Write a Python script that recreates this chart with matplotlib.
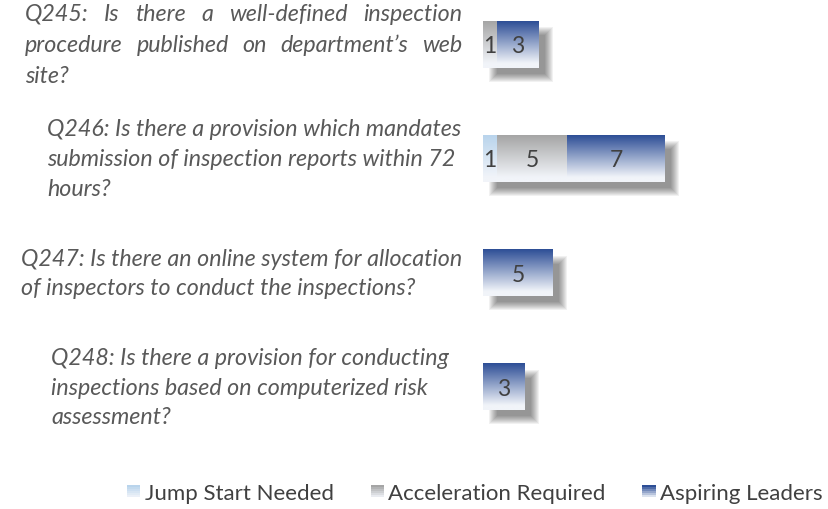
import numpy as np
import matplotlib
matplotlib.use("Agg")
import matplotlib.pyplot as plt
from matplotlib.colors import LinearSegmentedColormap, to_rgb
from matplotlib.patches import Rectangle, Patch
from matplotlib.legend_handler import HandlerBase
from matplotlib.transforms import offset_copy

# data
questions = [
    ["Q245: Is there a well-defined inspection",
     "procedure published on department\u2019s web",
     "site?"],
    ["Q246: Is there a provision which mandates",
     "submission of inspection reports within 72",
     "hours?"],
    ["Q247: Is there an online system for allocation",
     "of inspectors to conduct the inspections?"],
    ["Q248: Is there a provision for conducting",
     "inspections based on computerized risk",
     "assessment?"],
]
series = ["Jump Start Needed", "Acceleration Required", "Aspiring Leaders"]
jump_start = [0, 1, 0, 0]
acceleration = [1, 5, 0, 0]
aspiring = [3, 7, 5, 3]
colors = ["#b9d4ec", "#a5a5a5", "#2d4e96"]
light = "#f1f4f9"

W, H = 829, 510
PX = 14.0          # pixels per unit on the value axis
ROW = 114.2        # pixels between question rows
FONT = "Lato"

def grad_cmap(c):
    return LinearSegmentedColormap.from_list(
        "g", [(0, to_rgb(c)), (0.9, to_rgb(light)), (1, to_rgb(light))], N=256)

fig = plt.figure(figsize=(W / 100, H / 100), dpi=100)
ax = fig.add_axes([483 / W, 1 - 440 / H, (W - 483) / W, 440 / H])
ax.axis("off")
r = fig.canvas.get_renderer()

h = 46.5 / ROW
grad = np.linspace(0, 1, 200).reshape(-1, 1)
shadow_tr = offset_copy(ax.transData, fig=fig, x=10, y=-10, units="dots")

values = np.array([jump_start, acceleration, aspiring])
for i in range(len(questions)):
    total = values[:, i].sum()
    # soft drop shadow
    for pad in np.linspace(4, -4, 9):
        ax.add_patch(Rectangle((-pad / PX, i - h / 2 - pad / ROW), total + 2 * pad / PX,
                               h + 2 * pad / ROW, transform=shadow_tr,
                               color="black", alpha=0.055, lw=0, zorder=1))
    left = 0
    for s in range(len(series)):
        v = values[s, i]
        if v == 0:
            continue
        ax.imshow(grad, cmap=grad_cmap(colors[s]), aspect="auto", interpolation="bilinear",
                  extent=(left, left + v, i + h / 2, i - h / 2), zorder=2)
        ax.text(left + v / 2, i + 0.01, str(v), ha="center", va="center",
                fontsize=16.5, color="#404040", family=FONT, zorder=3)
        left += v

ax.set_xlim(0, (W - 483) / PX)
ax.set_ylim((440 - 45.5) / ROW, -45.5 / ROW)

# question text
probe = fig.text(0, 0, questions[1][0], fontsize=10, style="italic", family=FONT)
fs = 10 * 414 / probe.get_window_extent(r).width
probe.remove()
kw = dict(fontsize=fs, style="italic", family=FONT, color="#595959", va="center")

text_left = [25, 47, 21, 51]
line_gap = [31, 30, 29.5, 29.5]
justified = [True, False, False, False]
right_edge = 462

for qi, lines in enumerate(questions):
    yc = 45.5 + qi * ROW
    n = len(lines)
    for li, line in enumerate(lines):
        y = yc + (li - (n - 1) / 2) * line_gap[qi]
        if justified[qi] and li < n - 1:
            words = line.split(" ")
            arts = [fig.text(0, 0, w, ha="left", **kw) for w in words]
            widths = [a.get_window_extent(r).width for a in arts]
            gap = (right_edge - text_left[qi] - sum(widths)) / (len(words) - 1)
            x = text_left[qi]
            for a, w in zip(arts, widths):
                a.set_position((x / W, 1 - y / H))
                x += w + gap
        else:
            fig.text(text_left[qi] / W, 1 - y / H, line, ha="left", **kw)


class GradHandler(HandlerBase):
    def create_artists(self, legend, orig_handle, xdescent, ydescent, width, height, fontsize, trans):
        cm = grad_cmap(orig_handle.get_facecolor())
        n = 6
        out = []
        for k in range(n):
            out.append(Rectangle((-xdescent, -ydescent + height * (1 - (k + 1) / n)), width,
                                 height / n, facecolor=cm(k / (n - 1) * 0.8), lw=0,
                                 transform=trans))
        return out


handles = [Patch(facecolor=c) for c in colors]
fig.legend(handles, series, loc="center", bbox_to_anchor=(475 / W, 1 - 494 / H), ncol=3,
           frameon=False, handler_map={Patch: GradHandler()},
           prop={"family": "Lato", "size": 16}, labelcolor="#404040",
           handlelength=0.6, handleheight=0.45, handletextpad=0.2, columnspacing=1.65,
           borderpad=0.2)

fig.savefig("out.png", dpi=100)
